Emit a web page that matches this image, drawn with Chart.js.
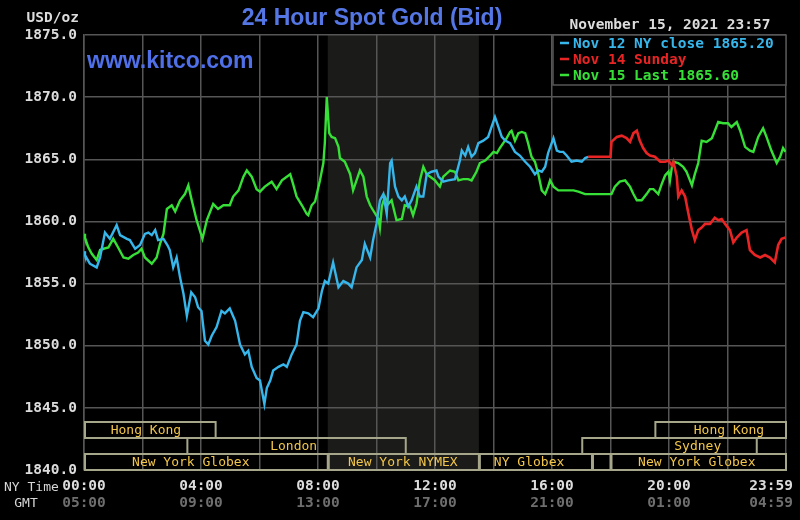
<!DOCTYPE html>
<html>
<head>
<meta charset="utf-8">
<script src="https://cdn.jsdelivr.net/npm/chart.js@4/dist/chart.umd.min.js"></script>
<style>
html,body{margin:0;padding:0;background:#000;}
#wrap{width:800px;height:520px;}
</style>
</head>
<body>
<div id="wrap"><canvas id="c" width="800" height="520"></canvas></div>
<script>
// ---- data (time in minutes after 00:00 NY time) ----
const blueLabel = 'Nov 12 NY close 1865.20';
const blueMinutes = [0,2,12,26,33,43,53,67,74,88,94,105,115,125,132,139,146,152,163,171,176,183,190,197,204,211,220,228,234,241,248,255,262,272,282,289,299,310,320,330,337,344,354,361,370,375,382,388,399,409,416,426,436,443,450,460,470,481,488,494,501,511,522,532,542,549,559,570,576,587,593,600,607,614,621,628,631,638,645,652,658,665,672,682,689,696,703,713,723,727,737,747,761,771,775,782,788,795,802,809,819,829,836,843,850,857,864,874,884,894,905,915,925,932,939,946,952,963,970,976,983,990,1000,1011,1021,1028,1034];
const blueValues = [1857.6,1857.3,1856.6,1856.3,1857.1,1859.1,1858.6,1859.7,1858.9,1858.6,1858.5,1857.8,1858.1,1859.0,1859.1,1858.9,1859.3,1858.5,1858.6,1858.1,1857.7,1856.3,1857.1,1855.5,1854.2,1852.4,1854.3,1853.9,1853.1,1852.8,1850.4,1850.1,1850.8,1851.5,1852.8,1852.6,1853.0,1852.0,1850.1,1849.3,1849.6,1848.3,1847.4,1847.2,1845.3,1846.6,1847.2,1848.0,1848.3,1848.5,1848.3,1849.3,1850.1,1852.0,1852.7,1852.6,1852.3,1853.0,1854.4,1855.2,1855.0,1856.7,1854.7,1855.2,1855.0,1854.7,1856.3,1856.9,1858.2,1857.1,1858.5,1859.8,1861.7,1862.2,1860.6,1864.7,1864.9,1862.8,1862.0,1861.7,1862.0,1861.2,1861.7,1862.8,1862.0,1862.0,1863.8,1864.0,1864.1,1863.6,1863.2,1863.3,1863.4,1864.9,1865.7,1865.3,1866.0,1865.2,1865.5,1866.3,1866.5,1866.8,1867.6,1868.4,1867.6,1866.8,1866.5,1866.3,1865.6,1865.3,1864.8,1864.4,1863.8,1864.1,1864.0,1864.4,1865.5,1866.7,1865.7,1865.6,1865.6,1865.3,1864.8,1864.9,1864.8,1865.1,1865.2];

const redLabel = 'Nov 14 Sunday';
const redMinutes = [1034,1080,1082,1093,1103,1113,1120,1127,1134,1140,1147,1154,1161,1171,1182,1192,1199,1206,1209,1216,1219,1226,1233,1240,1247,1253,1260,1267,1274,1284,1294,1301,1308,1315,1325,1332,1339,1349,1359,1366,1376,1387,1397,1407,1417,1424,1431,1439];
const redValues = [1865.2,1865.2,1866.4,1866.8,1866.9,1866.7,1866.4,1867.1,1867.3,1866.5,1865.9,1865.5,1865.3,1865.2,1864.8,1864.8,1864.9,1864.5,1864.8,1863.6,1862.0,1862.5,1862.0,1860.6,1859.3,1858.5,1859.3,1859.5,1859.8,1859.8,1860.3,1860.1,1860.2,1859.8,1859.3,1858.3,1858.7,1859.1,1859.3,1857.7,1857.3,1857.1,1857.3,1857.1,1856.7,1858.1,1858.6,1858.7];

const greenLabel = 'Nov 15 Last 1865.60';
const greenMinutes = [0,2,9,16,26,33,40,50,60,70,81,91,101,111,118,125,139,149,156,163,170,180,187,197,207,214,221,231,243,252,265,275,286,299,306,317,327,334,344,354,361,371,385,395,406,423,429,436,447,457,460,467,474,484,491,494,498,503,508,515,522,525,535,546,552,559,566,573,580,587,593,604,607,611,617,624,631,641,652,658,669,675,682,689,696,703,710,720,730,737,751,761,768,778,788,795,805,812,823,833,840,847,853,860,867,874,877,884,891,898,905,911,918,925,932,939,946,952,956,963,973,983,993,1004,1014,1028,1048,1069,1082,1089,1099,1110,1120,1127,1134,1144,1154,1161,1168,1178,1185,1192,1199,1202,1206,1209,1219,1229,1236,1243,1247,1253,1260,1267,1277,1288,1294,1301,1311,1321,1328,1339,1346,1356,1366,1373,1383,1393,1400,1410,1421,1428,1434,1439];
const greenValues = [1859.0,1858.7,1857.9,1857.4,1856.9,1857.7,1857.8,1857.9,1858.6,1857.9,1857.1,1857.0,1857.3,1857.5,1857.8,1857.1,1856.6,1857.1,1858.2,1859.0,1861.0,1861.3,1860.8,1861.7,1862.2,1862.9,1861.7,1860.1,1858.6,1860.1,1861.4,1861.0,1861.3,1861.3,1862.0,1862.5,1863.6,1864.1,1863.6,1862.6,1862.4,1862.8,1863.2,1862.6,1863.3,1863.8,1863.0,1862.0,1861.3,1860.6,1860.5,1861.3,1861.6,1863.3,1864.7,1866.3,1870.0,1867.1,1866.8,1866.7,1866.0,1865.1,1864.8,1863.8,1862.5,1863.3,1864.1,1863.6,1862.0,1861.3,1860.9,1860.2,1859.5,1861.2,1862.0,1861.4,1861.7,1860.1,1860.2,1861.3,1861.2,1860.5,1861.4,1863.3,1864.4,1863.8,1863.6,1863.3,1862.8,1863.6,1864.1,1864.0,1863.3,1863.4,1863.4,1863.3,1864.0,1864.7,1864.9,1865.3,1865.6,1865.5,1865.9,1866.3,1866.7,1867.2,1867.3,1866.5,1867.1,1867.2,1867.1,1866.3,1865.2,1864.8,1863.8,1862.5,1862.2,1862.8,1863.3,1862.8,1862.5,1862.5,1862.5,1862.5,1862.4,1862.2,1862.2,1862.2,1862.2,1862.8,1863.2,1863.3,1862.8,1862.2,1861.7,1861.7,1862.2,1862.6,1862.6,1862.2,1863.0,1863.7,1864.0,1863.3,1864.4,1864.8,1864.7,1864.4,1864.0,1863.3,1862.9,1863.8,1864.7,1866.5,1866.4,1866.7,1867.3,1868.0,1867.9,1867.9,1867.6,1868.0,1867.3,1866.0,1865.7,1865.6,1866.8,1867.5,1866.8,1865.7,1864.7,1865.2,1865.9,1865.6];

// axis labels
const tickMinutes = [0,240,480,720,960,1200,1440];
const nyTimeLabels = ['00:00','04:00','08:00','12:00','16:00','20:00','23:59'];
const gmtLabels = ['05:00','09:00','13:00','17:00','21:00','01:00','04:59'];

// shaded NYMEX pit session
const shadeStart = 500, shadeEnd = 810;

// market sessions (bars at the bottom)
const sessionNames   = ['Hong Kong','London','New York Globex','New York NYMEX','NY Globex','','New York Globex','Sydney','Hong Kong'];
const sessionRows    = [0,1,2,2,2,2,2,1,0];
const sessionStart   = [0,210,0,500,810,1042,1080,1020,1170];
const sessionEnd     = [270,660,500,810,1042,1080,1440,1380,1440];
const sessionLabelAt = [127,430,219,654,913,null,1257,1259,1323];

const COL_BLUE = '#36b6ea', COL_RED = '#e82424', COL_GREEN = '#36e036';
const GRID = '#565656';
const MONO = "'DejaVu Sans Mono', 'Liberation Mono', monospace";

function pts(ms, vs){ return ms.map((m,i)=>({x:m, y:vs[i]})); }

const kitcoPlugin = {
  id: 'kitco',
  beforeDraw(chart){
    const {ctx, chartArea:a, scales:{x}} = chart;
    ctx.save();
    ctx.fillStyle = '#000';
    ctx.fillRect(0,0,chart.width,chart.height);
    const s0 = x.getPixelForValue(shadeStart), s1 = x.getPixelForValue(shadeEnd);
    ctx.fillStyle = '#1b1b19';
    ctx.fillRect(s0, a.top, s1-s0, a.bottom-a.top);
    ctx.restore();
  },
  afterDatasetsDraw(chart){
    const {ctx, chartArea:a, scales:{x}} = chart;
    ctx.save();
    // session bars
    const rowH = 16;
    ctx.lineWidth = 2;
    ctx.strokeStyle = '#a6a68a';
    ctx.font = '13px ' + MONO;
    ctx.textAlign = 'center';
    ctx.textBaseline = 'middle';
    for (let i=0;i<sessionNames.length;i++){
      const x0 = x.getPixelForValue(sessionStart[i]);
      const x1 = x.getPixelForValue(sessionEnd[i]);
      const top = a.bottom - 3*rowH + sessionRows[i]*rowH;
      ctx.strokeRect(x0+1, top, x1-x0-1, rowH);
    }
    ctx.fillStyle = '#f2c64a';
    for (let i=0;i<sessionNames.length;i++){
      if (!sessionNames[i]) continue;
      const top = a.bottom - 3*rowH + sessionRows[i]*rowH;
      ctx.fillText(sessionNames[i], x.getPixelForValue(sessionLabelAt[i]), top + rowH/2 + 1);
    }
    // legend box
    const lw = 233, lh = 50;
    const lx = a.right - lw, ly = a.top;
    ctx.fillStyle = '#000';
    ctx.fillRect(lx, ly, lw, lh);
    ctx.strokeStyle = GRID; ctx.lineWidth = 1.5;
    ctx.strokeRect(lx, ly, lw, lh);
    ctx.font = 'bold 14.5px ' + MONO;
    ctx.textAlign = 'left';
    chart.data.datasets.forEach((ds,i)=>{
      const yy = ly + 8 + i*16;
      ctx.strokeStyle = ds.borderColor; ctx.lineWidth = 2.5;
      ctx.beginPath(); ctx.moveTo(lx+7, yy); ctx.lineTo(lx+16, yy); ctx.stroke();
      ctx.fillStyle = ds.borderColor;
      ctx.fillText(ds.label, lx+20, yy+1);
    });
    ctx.restore();
  },
  afterDraw(chart){
    const {ctx, scales:{x}} = chart;
    ctx.save();
    ctx.textBaseline = 'middle';
    // title
    ctx.fillStyle = '#5577e6';
    ctx.font = "bold 23px 'Liberation Sans', Arial, sans-serif";
    ctx.textAlign = 'center';
    ctx.fillText('24 Hour Spot Gold (Bid)', 372, 19);
    // watermark
    ctx.fillStyle = '#4f70e8';
    ctx.textAlign = 'left';
    ctx.fillText('www.kitco.com', 87, 62);
    // unit and date
    ctx.fillStyle = '#dcdcdc';
    ctx.font = 'bold 14.5px ' + MONO;
    ctx.textAlign = 'right';
    ctx.fillText('USD/oz', 79, 18);
    ctx.textAlign = 'center';
    ctx.fillText('November 15, 2021 23:57', 670, 25);
    // x labels
    for (let i=0;i<tickMinutes.length;i++){
      let px = x.getPixelForValue(tickMinutes[i]);
      ctx.font = 'bold 14.5px ' + MONO;
      const w = ctx.measureText(nyTimeLabels[i]).width;
      px = Math.min(px, chart.width - 7 - w/2);
      ctx.fillStyle = '#dcdcdc';
      ctx.fillText(nyTimeLabels[i], px, 486);
      ctx.fillStyle = '#6e6e6e';
      ctx.fillText(gmtLabels[i], px, 503);
    }
    ctx.font = '13px ' + MONO;
    ctx.fillStyle = '#d6d6d6';
    ctx.textAlign = 'left';
    ctx.fillText('NY Time', 4, 488);
    ctx.textAlign = 'center';
    ctx.fillText('GMT', 26, 504);
    ctx.restore();
  }
};

new Chart(document.getElementById('c'), {
  type: 'line',
  data: {
    datasets: [
      {label: blueLabel, data: pts(blueMinutes, blueValues), borderColor: COL_BLUE, backgroundColor: COL_BLUE, borderWidth: 2.4, pointRadius: 0, tension: 0},
      {label: redLabel, data: pts(redMinutes, redValues), borderColor: COL_RED, backgroundColor: COL_RED, borderWidth: 2.6, pointRadius: 0, tension: 0},
      {label: greenLabel, data: pts(greenMinutes, greenValues), borderColor: COL_GREEN, backgroundColor: COL_GREEN, borderWidth: 2.4, pointRadius: 0, tension: 0}
    ]
  },
  options: {
    responsive: false,
    animation: false,
    events: [],
    layout: {padding: {left: 0, right: 14, top: 35, bottom: 0}},
    plugins: {legend: {display: false}, tooltip: {enabled: false}, title: {display: false}},
    scales: {
      x: {
        type: 'linear', min: 0, max: 1440,
        ticks: {display: false, stepSize: 120},
        grid: {color: GRID, lineWidth: 1.5, drawTicks: false},
        border: {display: false},
        afterFit(s){ s.height = 50; s.paddingLeft = 0; s.paddingRight = 0; }
      },
      y: {
        min: 1840, max: 1875,
        ticks: {stepSize: 5, padding: 7, color: '#dcdcdc', font: {family: MONO, size: 14.5, weight: 'bold'}, callback: v => v.toFixed(1)},
        grid: {color: GRID, lineWidth: 1.5, drawTicks: false},
        border: {color: GRID, width: 1.5},
        afterFit(s){ s.width = 84; }
      }
    }
  },
  plugins: [kitcoPlugin]
});
</script>
</body>
</html>
